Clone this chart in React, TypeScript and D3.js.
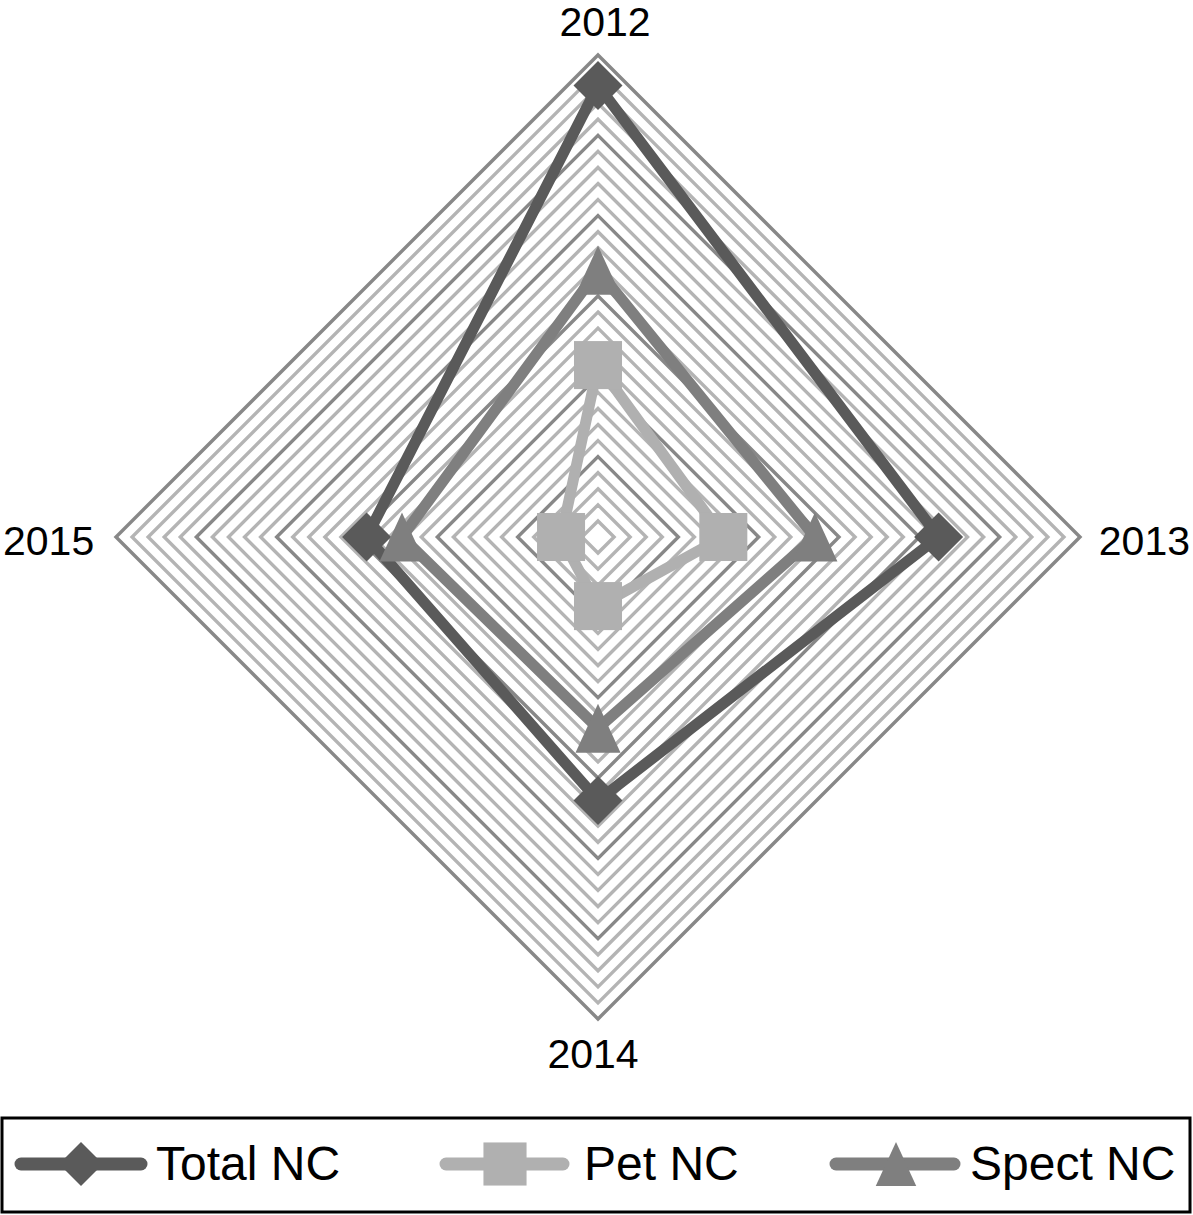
import React from "react";
import * as d3 from "d3";

const categories = ["2012", "2013", "2014", "2015"];
const totalNC = [28.1, 21.2, 16.4, 14.4];
const petNC = [10.7, 7.8, 4.3, 2.3];
const spectNC = [16.6, 13.5, 11.9, 12.2];
const seriesNames = ["Total NC", "Pet NC", "Spect NC"];
const ringValues = d3.range(1, 31);

const W = 1193;
const H = 1215;
const cx = 598;
const cy = 537;
const R = 482;

const r = d3.scaleLinear().domain([0, 30]).range([0, R]);
const angle = d3
  .scalePoint<string>()
  .domain(categories)
  .range([0, (2 * Math.PI * 3) / 4]);

function pt(cat: string, v: number): [number, number] {
  const a = angle(cat)! - Math.PI / 2;
  return [cx + r(v) * Math.cos(a), cy + r(v) * Math.sin(a)];
}

const colors = ["#5a5a5a", "#b0b0b0", "#7f7f7f"];
const markers = ["diamond", "square", "triangle"];

function Marker({ type, x, y, s, fill }: { type: string; x: number; y: number; s: number; fill: string }) {
  const h = s / 2;
  if (type === "diamond") {
    return <path d={`M${x},${y - h}L${x + h},${y}L${x},${y + h}L${x - h},${y}Z`} fill={fill} />;
  }
  if (type === "square") {
    return <rect x={x - h * 0.98} y={y - h * 0.98} width={s * 0.98} height={s * 0.98} fill={fill} />;
  }
  return <path d={`M${x},${y - h}L${x + h * 0.92},${y + h}L${x - h * 0.92},${y + h}Z`} fill={fill} />;
}

export default function App() {
  const data = [totalNC, petNC, spectNC];
  const line = d3.line<[number, number]>().curve(d3.curveLinearClosed);
  const legendX = [[15, 147, 81, 156], [440, 569, 505, 584], [830, 960, 896, 970]];
  const ly = 1164;
  return (
    <svg width={W} height={H} style={{ position: "absolute", left: 0, top: 0, background: "#fff" }}
      fontFamily="'Liberation Sans', Arial, sans-serif">
      <rect x={0} y={0} width={W} height={H} fill="#fff" />
      {ringValues.map((v) => (
        <path
          key={v}
          d={line(categories.map((c) => pt(c, v)))!}
          fill="none"
          stroke={v % 5 === 0 ? "#888888" : "#b4b4b4"}
          strokeWidth={3.4}
        />
      ))}
      {data.map((vals, i) => (
        <g key={i}>
          <path
            d={line(categories.map((c, j) => pt(c, vals[j])))!}
            fill="none"
            stroke={colors[i]}
            strokeWidth={11}
            strokeLinejoin="round"
          />
          {categories.map((c, j) => {
            const [x, y] = pt(c, vals[j]);
            return <Marker key={c} type={markers[i]} x={x} y={y} s={49} fill={colors[i]} />;
          })}
        </g>
      ))}
      <text x={605} y={36} textAnchor="middle" fontSize={41} fill="#000">{categories[0]}</text>
      <text x={1190} y={555} textAnchor="end" fontSize={41} fill="#000">{categories[1]}</text>
      <text x={593} y={1068} textAnchor="middle" fontSize={41} fill="#000">{categories[2]}</text>
      <text x={3} y={555} textAnchor="start" fontSize={41} fill="#000">{categories[3]}</text>
      <rect x={2} y={1118} width={1188} height={94} fill="#fff" stroke="#000" strokeWidth={3} />
      {seriesNames.map((n, i) => (
        <g key={n}>
          <line x1={legendX[i][0] + 6} x2={legendX[i][1] - 6} y1={ly} y2={ly} stroke={colors[i]} strokeWidth={13} strokeLinecap="round" />
          <Marker type={markers[i]} x={legendX[i][2]} y={ly} s={44} fill={colors[i]} />
          <text x={legendX[i][3]} y={1180} fontSize={48} fill="#000">{n}</text>
        </g>
      ))}
    </svg>
  );
}
